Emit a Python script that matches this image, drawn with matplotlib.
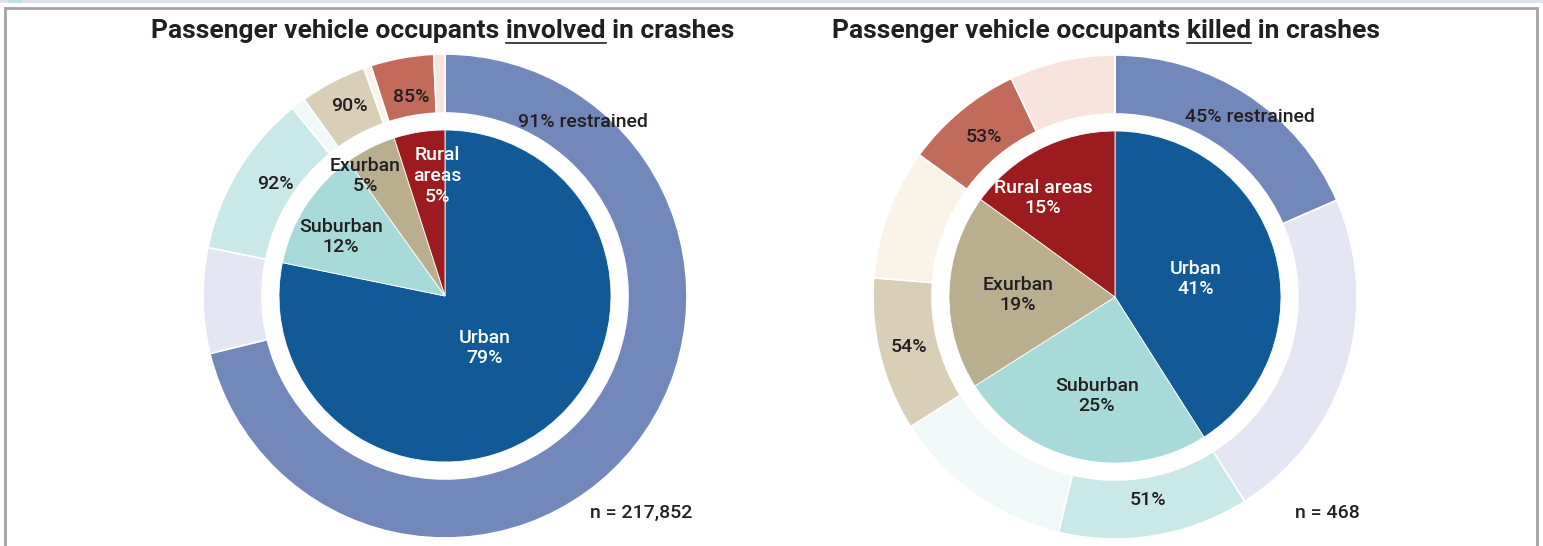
import matplotlib
matplotlib.use("Agg")
import matplotlib.pyplot as plt
from matplotlib.patches import Rectangle
from matplotlib.lines import Line2D

# ---------------- data ----------------
categories = ["Urban", "Suburban", "Exurban", "Rural areas"]
involved_share = [79, 12, 5, 5]          # % of occupants involved
involved_restrained = [91, 92, 90, 85]   # % restrained within each area
killed_share = [41, 25, 19, 15]          # % of occupants killed
killed_restrained = [45, 51, 54, 53]     # % restrained within each area
involved_n = "217,852"
killed_n = "468"

inner_colors = ["#125a97", "#a8dad9", "#b9ae8d", "#9b1b1f"]
restr_colors = ["#7288bb", "#c9e8e8", "#d8cfb6", "#c26b5b"]
unres_colors = ["#e4e7f3", "#f0f8f8", "#faf4e8", "#f8e3dd"]

TXT = "#231f20"
FONT = ["Roboto", "DejaVu Sans"]
plt.rcParams["font.family"] = FONT

W, H = 1543, 546
fig = plt.figure(figsize=(W / 100, H / 100), dpi=100)
ax = fig.add_axes([0, 0, 1, 1])
ax.set_xlim(0, W)
ax.set_ylim(0, H)
ax.set_aspect("equal")
ax.axis("off")

# frame decoration
ax.add_patch(Rectangle((0, H - 3), W, 3, color="#dce3ea", lw=0, zorder=0))
ax.add_patch(Rectangle((8, H - 3), 14, 3, color="#bfe3df", lw=0, zorder=0))
ax.add_patch(Rectangle((5, -10), W - 11, H - 8 + 10 - 0, fill=False,
                       edgecolor="#a3a3a3", lw=2, zorder=0))


def ring_values(share, restrained):
    vals, cols = [], []
    for s, r, c1, c2 in zip(share, restrained, restr_colors, unres_colors):
        vals += [s * r / 100.0, s * (100 - r) / 100.0]
        cols += [c1, c2]
    return vals, cols


def draw_chart(cx, cy, share, restrained):
    ax.pie(share, colors=inner_colors, radius=166, center=(cx, cy),
           startangle=90, counterclock=False, normalize=True,
           wedgeprops=dict(edgecolor="white", linewidth=0.6))
    vals, cols = ring_values(share, restrained)
    ax.pie(vals, colors=cols, radius=242, center=(cx, cy),
           startangle=90, counterclock=False, normalize=True,
           wedgeprops=dict(width=59, edgecolor="white", linewidth=1.2))


draw_chart(445, H - 296, involved_share, involved_restrained)
draw_chart(1115, H - 297, killed_share, killed_restrained)
ax.set_xlim(0, W)
ax.set_ylim(0, H)


def lab(x, y, s, color=TXT, size=14, weight="medium"):
    ax.text(x, H - y, s, ha="center", va="center", color=color,
            fontsize=size, fontweight=weight, linespacing=1.2, zorder=5)


# left chart labels
lab(583, 122, f"{involved_restrained[0]}% restrained")
lab(411, 97, f"{involved_restrained[3]}%")
lab(349, 106, f"{involved_restrained[2]}%")
lab(275, 184, f"{involved_restrained[1]}%")
lab(365, 176, f"Exurban\n{involved_share[2]}%")
lab(437, 176, f"Rural\nareas\n{involved_share[3]}%", color="white")
lab(341, 237, f"Suburban\n{involved_share[1]}%")
lab(485, 348, f"Urban\n{involved_share[0]}%", color="white")
lab(641, 513, f"n = {involved_n}")

# right chart labels
lab(1250, 117, f"{killed_restrained[0]}% restrained")
lab(984, 137, f"{killed_restrained[3]}%")
lab(1043, 198, f"Rural areas\n{killed_share[3]}%", color="white")
lab(1018, 295, f"Exurban\n{killed_share[2]}%")
lab(1196, 279, f"Urban\n{killed_share[0]}%", color="white")
lab(909, 347, f"{killed_restrained[2]}%")
lab(1097, 396, f"Suburban\n{killed_share[1]}%")
lab(1148, 500, f"{killed_restrained[1]}%")
lab(1327, 513, f"n = {killed_n}")


# titles with underlined word
def title(cx, y, pre, word, post, size=19):
    fig.canvas.draw()
    r = fig.canvas.get_renderer()
    kw = dict(fontsize=size, fontweight="semibold", color=TXT, va="center")
    parts = [pre, word, post]
    widths = []
    for p in parts:
        t = ax.text(0, 0, p.replace(" ", "\u00a0"), **kw)
        bb = t.get_window_extent(r)
        widths.append(bb.width)
        t.remove()
    full = ax.text(cx, H - y, pre + word + post, ha="center", **kw)
    bb = full.get_window_extent(r)
    inv = ax.transData.inverted()
    x0 = inv.transform((bb.x0, 0))[0]
    total = sum(widths)
    scale = (bb.width) / total
    wx0 = x0 + widths[0] * scale
    wx1 = wx0 + widths[1] * scale
    ax.add_line(Line2D([wx0, wx1], [H - y - 12, H - y - 12], color=TXT, lw=1.2))


title(443, 31, "Passenger vehicle occupants ", "involved", " in crashes")
title(1106, 31, "Passenger vehicle occupants ", "killed", " in crashes")

fig.savefig("out.png", dpi=100)
